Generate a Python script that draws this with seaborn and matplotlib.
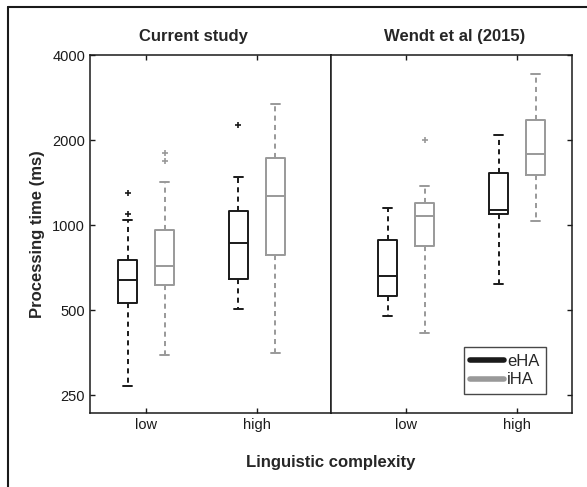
import numpy as np
import pandas as pd
import matplotlib
matplotlib.use("Agg")
import matplotlib.pyplot as plt
from matplotlib.lines import Line2D
import seaborn as sns

# 箱ひげ図の要約値（読み取り値, ms）: 順番は low-eHA, low-iHA, high-eHA, high-iHA
levels = ['low', 'high']
groups = ['eHA', 'iHA']
studies = ['Current study', 'Wendt et al (2015)']

cur_lower = [269, 346, 503, 353]
cur_q1 = [530, 611, 646, 781]
cur_median = [637, 714, 861, 1263]
cur_q3 = [750, 960, 1121, 1727]
cur_upper = [1045, 1424, 1483, 2683]
cur_outliers = [[1095, 1295], [1690, 1803], [2266], []]

wendt_lower = [477, 413, 620, 1032]
wendt_q1 = [560, 842, 1097, 1507]
wendt_median = [661, 1079, 1131, 1784]
wendt_q3 = [885, 1193, 1528, 2352]
wendt_upper = [1145, 1378, 2081, 3419]
wendt_outliers = [[], [2000], [], []]

y_ticks = [250, 500, 1000, 2000, 4000]
colors = ['#1a1a1a', '#999999']


def build_table(lower, q1, median, q3, upper, outliers):
    """要約値を seaborn 用の長形式テーブルに展開"""
    rows = []
    i = 0
    for level in levels:
        for group in groups:
            vals = [lower[i]] + [q1[i]] * 10 + [median[i]] * 10 + [q3[i]] * 10 + [upper[i]] + list(outliers[i])
            for v in vals:
                rows.append({'level': level, 'group': group, 'time': v})
            i += 1
    return pd.DataFrame(rows)


tables = [
    build_table(cur_lower, cur_q1, cur_median, cur_q3, cur_upper, cur_outliers),
    build_table(wendt_lower, wendt_q1, wendt_median, wendt_q3, wendt_upper, wendt_outliers),
]

sns.set_style('white')
plt.rcParams['font.family'] = ['Liberation Sans', 'DejaVu Sans']

fig = plt.figure(figsize=(5.87, 4.87), dpi=100)
W, H = 587.0, 487.0
ax_l = fig.add_axes([90 / W, 1 - 413 / H, 241 / W, 358 / H])
ax_r = fig.add_axes([331 / W, 1 - 413 / H, 241 / W, 358 / H])

xlims = [(-0.505, 1.667), (-0.676, 1.495)]

for k, ax in enumerate([ax_l, ax_r]):
    sns.boxplot(
        data=tables[k], x='level', y='time', hue='group',
        order=levels, hue_order=groups, palette=colors,
        fill=False, width=0.667, gap=0.5, whis=1.5, linewidth=1.4,
        whiskerprops={'linestyle': (0, (2.6, 2.2))},
        flierprops={'marker': '+', 'markersize': 4, 'markeredgewidth': 1.2},
        legend=False, ax=ax,
    )
    ax.set_yscale('log')
    ax.set_ylim(216, 4000)
    ax.set_xlim(*xlims[k])
    ax.set_yticks(y_ticks)
    ax.minorticks_off()
    ax.set_xlabel('')
    ax.set_ylabel('')
    for sp in ax.spines.values():
        sp.set_visible(True)
        sp.set_linewidth(1.1)
        sp.set_color('#1a1a1a')
    ax.tick_params(axis='both', direction='in', length=3.5, width=1.0,
                   labelsize=10.5, colors='#1a1a1a', top=True, bottom=True)

ax_l.set_yticklabels([str(t) for t in y_ticks])
ax_l.tick_params(axis='y', left=True, right=False)
ax_r.tick_params(axis='y', left=False, right=True, labelleft=False)

handles = [Line2D([0], [0], color=colors[0], lw=4),
           Line2D([0], [0], color=colors[1], lw=4)]
leg = ax_r.legend(handles, groups, loc='lower right', bbox_to_anchor=(0.892, 0.053),
                  borderaxespad=0, fontsize=12, frameon=True, fancybox=False,
                  handlelength=2.0, handletextpad=0.2, labelspacing=0.2,
                  borderpad=0.4)
leg.get_frame().set_edgecolor('#1a1a1a')
leg.get_frame().set_linewidth(1.0)

fig.text(193 / W, 1 - 37 / H, studies[0], ha='center', va='center', fontsize=12, fontweight='bold')
fig.text(454.5 / W, 1 - 37 / H, studies[1], ha='center', va='center', fontsize=12, fontweight='bold')
fig.text(331 / W, 1 - 462 / H, 'Linguistic complexity', ha='center', va='center', fontsize=12, fontweight='bold')
fig.text(38 / W, 1 - 234 / H, 'Processing time (ms)', ha='center', va='center',
         rotation=90, fontsize=12, fontweight='bold')

# 外枠（上と左のみ見えている）
fig.add_artist(Line2D([8 / W, 1], [1 - 6.5 / H, 1 - 6.5 / H], transform=fig.transFigure, color='#1a1a1a', lw=1.5))
fig.add_artist(Line2D([8 / W, 8 / W], [0, 1 - 6.5 / H], transform=fig.transFigure, color='#1a1a1a', lw=1.5))

fig.savefig('out.png', dpi=100)
